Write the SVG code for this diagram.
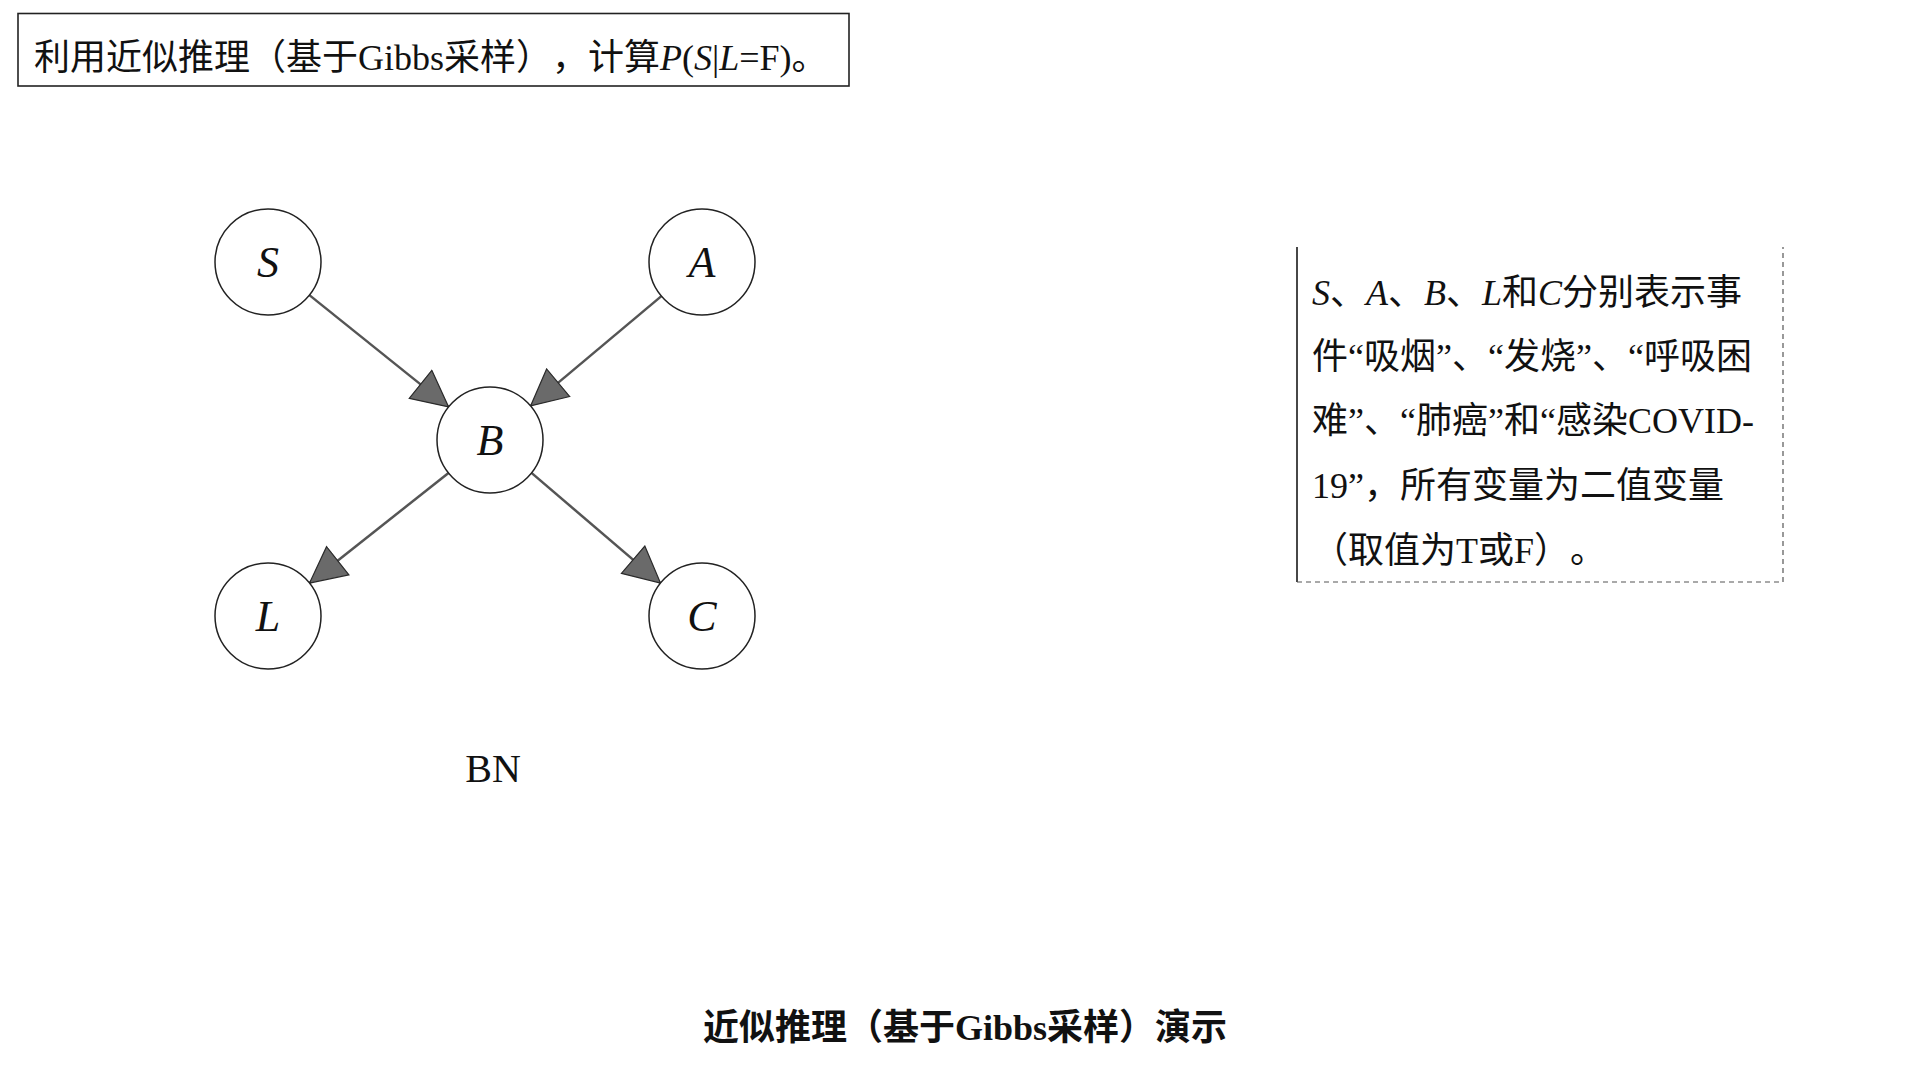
<svg xmlns="http://www.w3.org/2000/svg" width="1920" height="1080" viewBox="0 0 1920 1080">
  <style>
    text { text-spacing-trim: space-all; }
    .cjk { font-family: "Liberation Serif", "Noto Sans CJK SC", serif; fill: #111; }
    .it { font-style: italic; }
    .node circle { fill: #fff; stroke: #222; stroke-width: 1.5; }
    .node text { font-family: "Liberation Serif", serif; font-style: italic; font-size: 44px; fill: #111; text-anchor: middle; }
    .edge { stroke: #555; stroke-width: 2.5; fill: none; marker-end: url(#arr); }
  </style>
  <defs>
    <marker id="arr" markerUnits="userSpaceOnUse" markerWidth="38" markerHeight="38" viewBox="0 0 38 38" refX="37" refY="19" orient="auto">
      <path d="M1,1 L37,19 L1,37 Z" fill="#6a6a6a" stroke="#2a2a2a" stroke-width="1.2"/>
    </marker>
  </defs>
  <rect width="1920" height="1080" fill="#fff"/>

  <g id="title">
    <rect x="18" y="13.5" width="831" height="72.5" fill="none" stroke="#222" stroke-width="1.6"/>
    <text class="cjk" x="34" y="70" font-size="36">利用近似推理（基于Gibbs采样），计算<tspan class="it">P</tspan>(<tspan class="it">S</tspan>|<tspan class="it">L</tspan>=F)。</text>
  </g>

  <g id="connectors">
    <line class="edge" x1="309.4" y1="295.1" x2="448.6" y2="406.9"/>
    <line class="edge" x1="661.4" y1="296.1" x2="530.6" y2="405.9"/>
    <line class="edge" x1="448.5" y1="472.9" x2="309.5" y2="583.1"/>
    <line class="edge" x1="531.5" y1="472.9" x2="660.5" y2="583.1"/>
  </g>

  <g id="node-S" class="node">
    <circle cx="268" cy="262" r="53"/>
    <text x="268" y="277">S</text>
  </g>
  <g id="node-A" class="node">
    <circle cx="702" cy="262" r="53"/>
    <text x="702" y="277">A</text>
  </g>
  <g id="node-B" class="node">
    <circle cx="490" cy="440" r="53"/>
    <text x="490" y="455">B</text>
  </g>
  <g id="node-L" class="node">
    <circle cx="268" cy="616" r="53"/>
    <text x="268" y="631">L</text>
  </g>
  <g id="node-C" class="node">
    <circle cx="702" cy="616" r="53"/>
    <text x="702" y="631">C</text>
  </g>

  <g id="label-BN">
    <text x="493" y="782" font-family="Liberation Serif, serif" font-size="40" text-anchor="middle" fill="#111">BN</text>
  </g>

  <g id="legend">
    <path d="M1297,247 L1297,582" stroke="#333" stroke-width="1.8" fill="none"/>
    <path d="M1297,582 L1783,582 L1783,247" stroke="#555" stroke-width="1.2" stroke-dasharray="5,4" fill="none"/>
    <text class="cjk" font-size="36">
      <tspan x="1312" y="305"><tspan class="it">S</tspan>、<tspan class="it">A</tspan>、<tspan class="it">B</tspan>、<tspan class="it">L</tspan>和<tspan class="it">C</tspan>分别表示事</tspan>
      <tspan x="1312" y="369">件“吸烟”、“发烧”、“呼吸困</tspan>
      <tspan x="1312" y="433">难”、“肺癌”和“感染COVID-</tspan>
      <tspan x="1312" y="498">19”，所有变量为二值变量</tspan>
      <tspan x="1312" y="563">（取值为T或F）。</tspan>
    </text>
  </g>

  <g id="caption">
    <text class="cjk" x="965" y="1040" font-size="36" font-weight="bold" text-anchor="middle">近似推理（基于Gibbs采样）演示</text>
  </g>
</svg>
